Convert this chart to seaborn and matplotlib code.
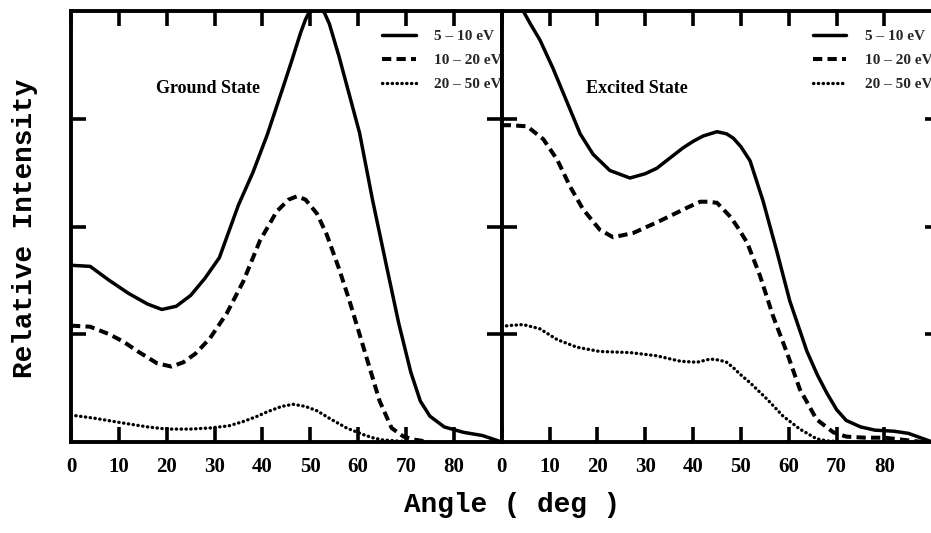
import matplotlib
matplotlib.use('Agg')
import matplotlib.pyplot as plt
import pandas as pd
import seaborn as sns

# ---------------- data ----------------
series_labels = ['5 – 10 eV', '10 – 20 eV', '20 – 50 eV']
panel_titles = ['Ground State', 'Excited State']
x_ticks = [0, 10, 20, 30, 40, 50, 60, 70, 80]
y_ticks = [1, 2, 3]

# Ground state
g_solid_x = [0, 4, 8, 12, 16, 19, 22, 25, 28, 31, 35, 38, 41, 44, 46, 48, 49, 50, 51, 52,
             53, 54, 56, 58, 60.3, 63, 66, 68.5, 71, 73, 75, 78, 82, 86, 90]
g_solid_y = [1.64, 1.63, 1.5, 1.38, 1.28, 1.23, 1.26, 1.36, 1.52, 1.71, 2.2, 2.5, 2.85,
             3.25, 3.52, 3.8, 3.92, 4.01, 4.05, 4.04, 3.98, 3.88, 3.58, 3.25, 2.87, 2.25,
             1.62, 1.1, 0.65, 0.38, 0.24, 0.14, 0.09, 0.06, 0.0]
g_dash_x = [0, 4, 8, 11, 14, 18, 21, 23.5, 26, 29, 32.5, 36, 39.5, 43, 45.5, 47.2, 49,
            51.4, 53.4, 56, 58.2, 60.3, 62.4, 64.5, 67, 69.5, 72, 75]
g_dash_y = [1.08, 1.07, 1.0, 0.93, 0.84, 0.73, 0.70, 0.74, 0.82, 0.96, 1.19, 1.49, 1.87,
            2.14, 2.25, 2.28, 2.25, 2.12, 1.93, 1.61, 1.31, 1.0, 0.69, 0.38, 0.13, 0.05,
            0.02, 0.0]
g_dot_x = [0, 5, 11.7, 16, 20, 25, 29, 33, 36, 39, 41, 44, 46.4, 49, 51.4, 54, 57.6, 61,
           63, 65, 68, 72]
g_dot_y = [0.25, 0.22, 0.17, 0.14, 0.12, 0.12, 0.13, 0.15, 0.19, 0.24, 0.28, 0.33, 0.35,
           0.33, 0.29, 0.22, 0.13, 0.07, 0.04, 0.02, 0.01, 0.0]

# Excited state
e_solid_x = [0, 3, 4.5, 6, 8, 10.7, 13.6, 16.4, 19.1, 22.6, 26.8, 30, 32.4, 35, 37.9, 40,
             42.1, 45, 47, 48.4, 50, 51.9, 54.6, 57.5, 60.2, 63.8, 66, 68, 70, 72, 75, 78,
             82, 85, 87.5, 90]
e_solid_y = [4.4, 4.15, 4.0, 3.88, 3.73, 3.47, 3.16, 2.86, 2.67, 2.52, 2.45, 2.49, 2.54,
             2.63, 2.73, 2.79, 2.84, 2.88, 2.86, 2.82, 2.74, 2.61, 2.24, 1.77, 1.31, 0.84,
             0.62, 0.45, 0.3, 0.2, 0.14, 0.11, 0.1, 0.08, 0.04, 0.0]
e_dash_x = [0, 1.7, 5.3, 8.7, 11.6, 14.3, 17, 20.5, 23.3, 27.5, 32.5, 36.7, 39, 41.5, 43,
            45, 47.8, 49.2, 51.3, 54, 56.7, 59.6, 62.3, 65.8, 69.3, 72, 76, 80, 84, 88]
e_dash_y = [2.94, 2.94, 2.93, 2.81, 2.62, 2.37, 2.16, 1.97, 1.9, 1.94, 2.04, 2.13, 2.18,
            2.23, 2.23, 2.22, 2.09, 2.0, 1.85, 1.54, 1.17, 0.83, 0.49, 0.21, 0.09, 0.05,
            0.04, 0.04, 0.02, 0.0]
e_dot_x = [0, 1.3, 4.5, 8, 11.6, 15.7, 20.5, 26.8, 32.4, 37.3, 40.8, 43.6, 45.5, 47, 48.4,
           49.8, 51.9, 55.4, 58.8, 62.3, 65.8, 68, 72]
e_dot_y = [1.07, 1.08, 1.09, 1.05, 0.95, 0.88, 0.84, 0.83, 0.80, 0.75, 0.74, 0.77, 0.76,
           0.74, 0.69, 0.63, 0.55, 0.40, 0.24, 0.12, 0.03, 0.01, 0.0]

# ---------------- styling ----------------
sns.set_theme(style='ticks')
SERIF = ['Liberation Serif', 'DejaVu Serif']
MONO = ['Liberation Mono', 'DejaVu Sans Mono']
plt.rcParams['font.family'] = SERIF

line_styles = [
    dict(linestyle='-', lw=2.5),
    dict(linestyle=(0, (2.3, 1.3)), lw=2.9),
    dict(linestyle=(0, (0.1, 1.35)), lw=2.4, dash_capstyle='round'),
]

W, H = 931, 533
fig = plt.figure(figsize=(W / 100, H / 100), dpi=100, facecolor='white')
ax_bottom, ax_top = 442, 11
px_per_deg = 4.785
ax1 = fig.add_axes([71 / W, 1 - ax_bottom / H, 90 * px_per_deg / W, (ax_bottom - ax_top) / H])
ax2 = fig.add_axes([501.7 / W, 1 - ax_bottom / H, 91.5 * px_per_deg / W, (ax_bottom - ax_top) / H])

panels = [
    (ax1, [(g_solid_x, g_solid_y), (g_dash_x, g_dash_y), (g_dot_x, g_dot_y)], 90),
    (ax2, [(e_solid_x, e_solid_y), (e_dash_x, e_dash_y), (e_dot_x, e_dot_y)], 91.5),
]

for (ax, series, xmax), title in zip(panels, panel_titles):
    for lab, (xs, ys), st in zip(series_labels, series, line_styles):
        df = pd.DataFrame({'Angle': xs, 'Intensity': ys})
        sns.lineplot(data=df, x='Angle', y='Intensity', ax=ax, color='black',
                     label=lab, estimator=None, **st)
    ax.set_xlim(0, xmax)
    ax.set_ylim(0, 4)
    ax.set_xticks(x_ticks)
    ax.set_yticks(y_ticks)
    ax.set_xticklabels([str(t) for t in x_ticks], fontweight='bold', family=SERIF, fontsize=15)
    ax.tick_params(axis='both', direction='in', length=11, width=2.6, color='black',
                   top=True, right=True, labelleft=False, pad=11, labelcolor='black')
    ax.set_xlabel('')
    ax.set_ylabel('')
    for sp in ax.spines.values():
        sp.set_linewidth(2.8)
        sp.set_color('black')
    ax.set_facecolor('white')
    ax.text(17.7, 3.28, title, ha='left', va='center', fontsize=13, fontweight='bold',
            family=SERIF, color='black')
    ax.legend(loc='upper left', bbox_to_anchor=(65, 3.83), bbox_transform=ax.transData,
              frameon=False, borderpad=0, borderaxespad=0, handlelength=2.2,
              handletextpad=1.2, labelspacing=0.68,
              prop=dict(family=SERIF, weight='bold', size=11))

fig.text(512 / W, 1 - 505 / H, 'Angle ( deg )', ha='center', va='center', fontsize=20,
         family=MONO, fontweight='bold', color='black')
fig.text(25 / W, 1 - 228 / H, 'Relative Intensity', ha='center', va='center', fontsize=20,
         family=MONO, fontweight='bold', rotation=90, color='black')

fig.savefig('out.png', dpi=100, facecolor='white')
